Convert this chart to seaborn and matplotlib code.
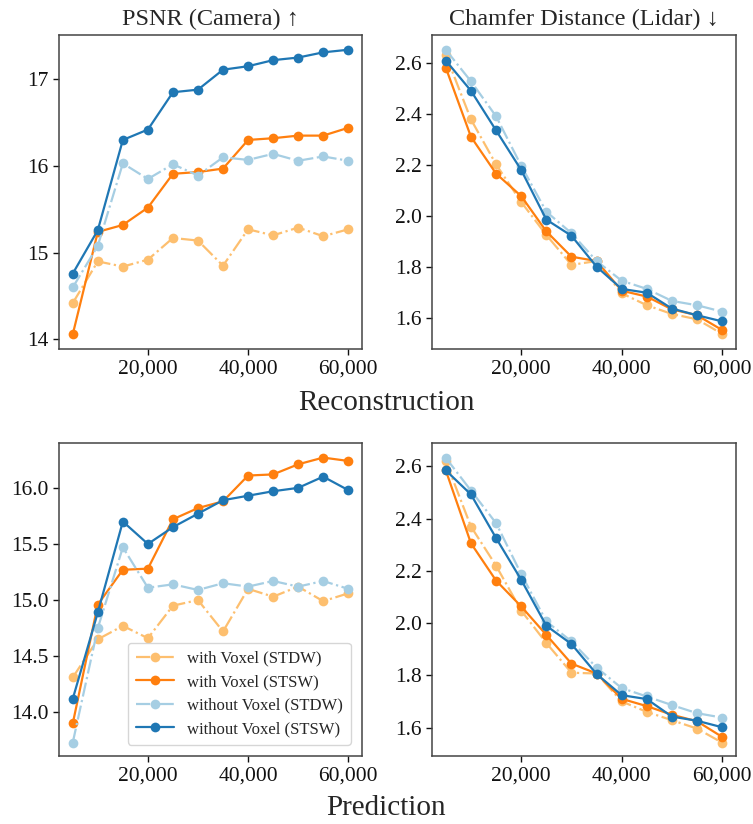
import numpy as np
import pandas as pd
import matplotlib
matplotlib.use("Agg")
import matplotlib.pyplot as plt
import seaborn as sns
from matplotlib.ticker import FuncFormatter

steps = [5000, 10000, 15000, 20000, 25000, 30000, 35000, 40000, 45000, 50000, 55000, 60000]
series_names = ["with Voxel (STDW)", "with Voxel (STSW)", "without Voxel (STDW)", "without Voxel (STSW)"]

# Reconstruction - PSNR
rec_psnr_wv_stdw = [14.42, 14.90, 14.84, 14.92, 15.17, 15.14, 14.85, 15.27, 15.20, 15.29, 15.19, 15.27]
rec_psnr_wv_stsw = [14.06, 15.24, 15.32, 15.52, 15.91, 15.93, 15.97, 16.30, 16.32, 16.35, 16.35, 16.44]
rec_psnr_wo_stdw = [14.60, 15.08, 16.03, 15.85, 16.02, 15.89, 16.10, 16.07, 16.14, 16.06, 16.11, 16.06]
rec_psnr_wo_stsw = [14.76, 15.26, 16.30, 16.42, 16.85, 16.88, 17.11, 17.15, 17.22, 17.25, 17.31, 17.34]

# Reconstruction - Chamfer
rec_cd_wv_stdw = [2.63, 2.378, 2.202, 2.055, 1.926, 1.809, 1.824, 1.698, 1.651, 1.617, 1.596, 1.539]
rec_cd_wv_stsw = [2.58, 2.31, 2.166, 2.078, 1.94, 1.841, 1.824, 1.708, 1.685, 1.635, 1.612, 1.554]
rec_cd_wo_stdw = [2.65, 2.527, 2.39, 2.197, 2.017, 1.933, 1.824, 1.747, 1.715, 1.668, 1.651, 1.626]
rec_cd_wo_stsw = [2.608, 2.49, 2.335, 2.18, 1.986, 1.923, 1.802, 1.715, 1.70, 1.638, 1.612, 1.588]

# Prediction - PSNR
pred_psnr_wv_stdw = [14.31, 14.65, 14.77, 14.66, 14.95, 15.00, 14.72, 15.10, 15.03, 15.12, 14.99, 15.06]
pred_psnr_wv_stsw = [13.90, 14.96, 15.27, 15.28, 15.72, 15.82, 15.88, 16.11, 16.12, 16.21, 16.27, 16.24]
pred_psnr_wo_stdw = [13.73, 14.75, 15.47, 15.11, 15.14, 15.09, 15.15, 15.12, 15.17, 15.12, 15.17, 15.10]
pred_psnr_wo_stsw = [14.12, 14.89, 15.70, 15.50, 15.65, 15.77, 15.89, 15.93, 15.97, 16.00, 16.10, 15.98]

# Prediction - Chamfer
pred_cd_wv_stdw = [2.62, 2.37, 2.22, 2.048, 1.924, 1.81, 1.807, 1.70, 1.66, 1.628, 1.596, 1.542]
pred_cd_wv_stsw = [2.585, 2.306, 2.163, 2.064, 1.955, 1.845, 1.807, 1.71, 1.682, 1.649, 1.624, 1.564]
pred_cd_wo_stdw = [2.633, 2.508, 2.383, 2.188, 2.007, 1.93, 1.83, 1.751, 1.719, 1.686, 1.655, 1.638]
pred_cd_wo_stsw = [2.585, 2.493, 2.326, 2.166, 1.99, 1.92, 1.805, 1.724, 1.709, 1.642, 1.626, 1.601]

colors = ["#fdbf6f", "#ff7f0e", "#a6cee3", "#1f77b4"]
styles = ["-.", "-", "-.", "-"]

sns.set_theme(style="white")
plt.rcParams["font.family"] = ["Liberation Serif", "DejaVu Sans"]
plt.rcParams["mathtext.fontset"] = "stix"

fig = plt.figure(figsize=(7.53, 8.24), dpi=100)
W, H = 753, 824
def add_ax(x0, y0, x1, y1):
    return fig.add_axes([x0 / W, 1 - y1 / H, (x1 - x0) / W, (y1 - y0) / H])

ax_rp = add_ax(59, 35, 362, 349)
ax_rc = add_ax(432, 35, 736, 349)
ax_pp = add_ax(59, 443, 362, 756)
ax_pc = add_ax(432, 443, 736, 756)

panels = [
    (ax_rp, [rec_psnr_wv_stdw, rec_psnr_wv_stsw, rec_psnr_wo_stdw, rec_psnr_wo_stsw], (13.89, 17.51), [14, 15, 16, 17], "{:.0f}"),
    (ax_rc, [rec_cd_wv_stdw, rec_cd_wv_stsw, rec_cd_wo_stdw, rec_cd_wo_stsw], (1.48, 2.708), [1.6, 1.8, 2.0, 2.2, 2.4, 2.6], "{:.1f}"),
    (ax_pp, [pred_psnr_wv_stdw, pred_psnr_wv_stsw, pred_psnr_wo_stdw, pred_psnr_wo_stsw], (13.61, 16.40), [14.0, 14.5, 15.0, 15.5, 16.0], "{:.1f}"),
    (ax_pc, [pred_cd_wv_stdw, pred_cd_wv_stsw, pred_cd_wo_stdw, pred_cd_wo_stsw], (1.491, 2.69), [1.6, 1.8, 2.0, 2.2, 2.4, 2.6], "{:.1f}"),
]

for ax, data, ylim, yt, fmt in panels:
    for name, vals, c, ls in zip(series_names, data, colors, styles):
        sns.lineplot(x=steps, y=vals, ax=ax, color=c, linestyle=ls, marker="o",
                     markersize=7, markeredgewidth=0, linewidth=1.6, label=name)
    ax.set_ylim(*ylim)
    ax.set_yticks(yt)
    ax.yaxis.set_major_formatter(FuncFormatter(lambda v, p, f=fmt: f.format(v)))
    ax.set_xticks([20000, 40000, 60000])
    ax.xaxis.set_major_formatter(FuncFormatter(lambda v, p: f"{int(v):,}"))
    ax.tick_params(axis="both", labelsize=15.5, colors="#111111", length=4, width=1,
                   direction="out", bottom=True, left=True)
    for s in ax.spines.values():
        s.set_color("#444444")
        s.set_linewidth(1.1)
    ax.set_facecolor("white")
    if ax is not ax_pp:
        leg = ax.get_legend()
        if leg:
            leg.remove()

ax_rp.set_title("PSNR (Camera) ↑", fontsize=17.5, pad=7)
ax_rc.set_title("Chamfer Distance (Lidar) ↓", fontsize=17.5, pad=7)

ax_pp.legend(loc="lower right", fontsize=12, frameon=True, framealpha=0.8,
             edgecolor="#cccccc", borderpad=0.45, labelspacing=0.45, handlelength=2.3,
             bbox_to_anchor=(0.99, 0.01))

fig.text(386 / W, 1 - 403 / H, "Reconstruction", ha="center", va="center", fontsize=21)
fig.text(386 / W, 1 - 808 / H, "Prediction", ha="center", va="center", fontsize=21)

fig.savefig("out.png", dpi=100, facecolor="white")
